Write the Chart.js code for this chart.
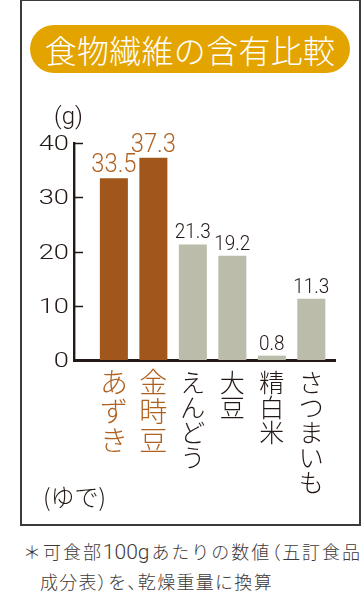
<!DOCTYPE html>
<html><head><meta charset="utf-8">
<script src="https://cdn.jsdelivr.net/npm/chart.js@4"></script>
<style>
html,body{margin:0;padding:0;background:#fff;width:362px;height:606px;overflow:hidden;font-family:"Noto Sans CJK JP",sans-serif;}
#frame{position:absolute;left:20px;top:-1px;width:337px;height:523px;border:2px solid #3e3a39;}
#title{position:absolute;left:30px;top:25px;width:320px;height:48px;border-radius:24px;background:#E3A400;color:#fff;font-size:32px;font-weight:300;line-height:48px;text-align:center;letter-spacing:0.3px;}
#note{position:absolute;left:23px;top:537px;font-size:18px;line-height:29px;color:#3e3a39;white-space:nowrap;font-weight:300;}
#note .l1{width:337px;text-align:justify;text-align-last:justify;text-justify:inter-character;}
#note .l2{padding-left:17px;letter-spacing:1.3px;}
#note .num{font-family:Roboto,sans-serif;font-weight:300;font-size:21px;}
#note .p{font-feature-settings:"palt";}
canvas{position:absolute;left:0;top:0;}
</style></head>
<body>
<div id="frame"></div>
<div id="title">食物繊維の含有比較</div>
<div id="note"><div class="l1">＊可食部<span class="num">100g</span>あたりの数値<span class="p">（</span>五訂食品</div><div class="l2">成分表<span class="p">）</span>を<span class="p">、</span>乾燥重量に換算</div></div>
<canvas id="c" width="362" height="606"></canvas>
<script>
const categories = ['あずき','金時豆','えんどう','大豆','精白米','さつまいも'];
const values = [33.5, 37.3, 21.3, 19.2, 0.8, 11.3];
const valueLabels = ['33.5','37.3','21.3','19.2','0.8','11.3'];
const boiled = [true, true, false, false, false, false];
const yTicks = [0, 10, 20, 30, 40];
const unitLabel = '(g)';
const boiledLabel = '(ゆで)';

const BROWN = '#A1571B';
const BROWN_TEXT = '#B0611F';
const GRAY = '#BBBCA9';
const DARK = '#231815';
const FONT = '"Noto Sans CJK JP", sans-serif';
const NUMFONT = 'Roboto, "Noto Sans", sans-serif';

const labelPlugin = {
  id: 'labels',
  afterDraw(chart) {
    const ctx = chart.ctx, meta = chart.getDatasetMeta(0), area = chart.chartArea, ys = chart.scales.y;
    ctx.save();
    // y ticks (inward) and tick labels
    ctx.strokeStyle = DARK;
    ctx.lineWidth = 1.5;
    ctx.fillStyle = DARK;
    ctx.textAlign = 'right';
    ctx.textBaseline = 'middle';
    ctx.font = `300 21px ${NUMFONT}`;
    yTicks.forEach(v => {
      const y = Math.round(ys.getPixelForValue(v)) + 0.5;
      if (v !== 0) {
        ctx.beginPath();
        ctx.moveTo(area.left, y);
        ctx.lineTo(area.left + 9, y);
        ctx.stroke();
      }
      ctx.save();
      ctx.translate(area.left - 5, y + 1);
      ctx.scale(1.3, 1);
      ctx.fillText(String(v), 0, 0);
      ctx.restore();
    });
    ctx.textAlign = 'center';
    meta.data.forEach((bar, i) => {
      const hl = boiled[i];
      ctx.save();
      ctx.fillStyle = hl ? BROWN_TEXT : DARK;
      ctx.font = `300 ${hl ? 25 : 21}px ${NUMFONT}`;
      ctx.textBaseline = 'alphabetic';
      ctx.translate(bar.x, bar.y - 6);
      ctx.scale(hl ? 0.95 : 0.9, 1);
      ctx.fillText(valueLabels[i], 0, 0);
      ctx.restore();
      const fs = hl ? 28 : 25, step = hl ? 29 : 25;
      ctx.fillStyle = hl ? BROWN_TEXT : DARK;
      ctx.font = `300 ${fs}px ${FONT}`;
      ctx.textBaseline = 'middle';
      [...categories[i]].forEach((ch, k) => ctx.fillText(ch, bar.x, area.bottom + 22 + k * step));
    });
    ctx.fillStyle = DARK;
    ctx.textAlign = 'left';
    ctx.textBaseline = 'middle';
    ctx.font = `300 24px ${NUMFONT}`;
    ctx.fillText(unitLabel, 54, 118);
    ctx.font = `300 24px ${FONT}`;
    ctx.fillText(boiledLabel, 43, 497);
    ctx.restore();
  }
};

new Chart(document.getElementById('c'), {
  type: 'bar',
  data: {
    datasets: [{
      data: values.map((v, i) => ({x: i, y: v})),
      backgroundColor: boiled.map(b => b ? BROWN : GRAY),
      borderWidth: 0,
      barPercentage: 0.71,
      categoryPercentage: 1
    }]
  },
  options: {
    responsive: false,
    animation: false,
    events: [],
    layout: {padding: {left: 20, right: 27, top: 143, bottom: 246}},
    plugins: {legend: {display: false}, tooltip: {enabled: false}},
    scales: {
      x: {
        type: 'linear', min: -1.01, max: 5.6, offset: false,
        grid: {display: false, offset: false},
        ticks: {display: false},
        border: {display: true, width: 3, color: DARK},
        afterFit: s => { s.height = 0; }
      },
      y: {
        min: 0, max: 40,
        afterFit: s => { s.width = 54; },
        ticks: {display: false},
        grid: {display: false},
        border: {display: true, width: 2.4, color: DARK}
      }
    }
  },
  plugins: [labelPlugin]
});
</script>
</body></html>
